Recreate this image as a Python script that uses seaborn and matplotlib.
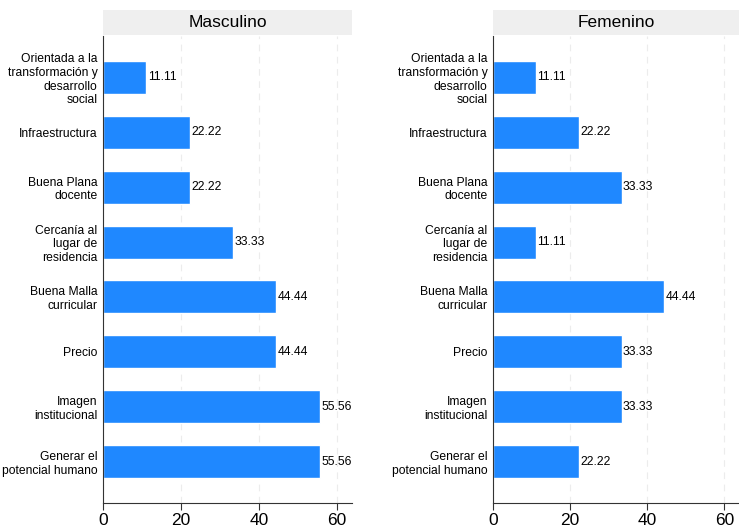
import matplotlib
matplotlib.use("Agg")
import matplotlib.pyplot as plt
import seaborn as sb
import pandas as pd

# data
categorias = ["Orientada a la\ntransformación y\ndesarrollo\nsocial",
              "Infraestructura",
              "Buena Plana\ndocente",
              "Cercanía al\nlugar de\nresidencia",
              "Buena Malla\ncurricular",
              "Precio",
              "Imagen\ninstitucional",
              "Generar el\npotencial humano"]
masculino = [11.11, 22.22, 22.22, 33.33, 44.44, 44.44, 55.56, 55.56]
femenino = [11.11, 22.22, 33.33, 11.11, 44.44, 33.33, 33.33, 22.22]
paneles = ["Masculino", "Femenino"]
x_ticks = [0, 20, 40, 60]

sb.set_style("white")
plt.rcParams['font.family'] = ['Liberation Sans', 'DejaVu Sans']
plt.rcParams['text.color'] = 'black'
plt.rcParams['xtick.color'] = 'black'
plt.rcParams['ytick.color'] = 'black'

BAR_COLOR = '#1f88ff'

fig = plt.figure(figsize=(7.39, 5.27), dpi=100)

#------------------------------------
# panel positions (figure fractions)
lefts = [103 / 739, 493 / 739]
width = 0.3369
bottom = 24 / 527
height = 467 / 527
strip_bottom = 1 - 35 / 527
strip_h = 25 / 527

for left, nombre, valores in zip(lefts, paneles, [masculino, femenino]):
    ax = fig.add_axes([left, bottom, min(width, 1 - left), height])
    df = pd.DataFrame({'cat': categorias, 'val': valores})
    sb.barplot(data=df, x='val', y='cat', orient='h', color=BAR_COLOR,
               saturation=1, width=0.6, ax=ax)
    ax.bar_label(ax.containers[0], fmt='%.2f', padding=1, fontsize=8.7,
                 color='black')

    ax.set_xlim(0, 63.8)
    ax.set_ylim(7.75, -0.75)
    ax.set_xticks(x_ticks)
    ax.tick_params(axis='x', labelsize=12.5, length=5, width=0.8,
                   bottom=True, color='#333333', pad=2, labelcolor='black')
    ax.tick_params(axis='y', labelsize=8.7, length=0, pad=4, labelcolor='black')
    ax.xaxis.grid(True, linestyle=(0, (6, 5)), color='#ececec', linewidth=0.8)
    ax.set_axisbelow(True)
    for s in ['top', 'right']:
        ax.spines[s].set_visible(False)
    for s in ['left', 'bottom']:
        ax.spines[s].set_color('#333333')
        ax.spines[s].set_linewidth(0.8)
    ax.set_xlabel('')
    ax.set_ylabel('')

    # header strip
    sax = fig.add_axes([left, strip_bottom, min(width, 1 - left), strip_h])
    sax.set_facecolor('#efefef')
    sax.set_xticks([])
    sax.set_yticks([])
    for s in sax.spines.values():
        s.set_visible(False)
    sax.text(0.5, 0.5, nombre, ha='center', va='center', fontsize=12.5,
             color='black', transform=sax.transAxes)

fig.savefig('out.png', dpi=100)
